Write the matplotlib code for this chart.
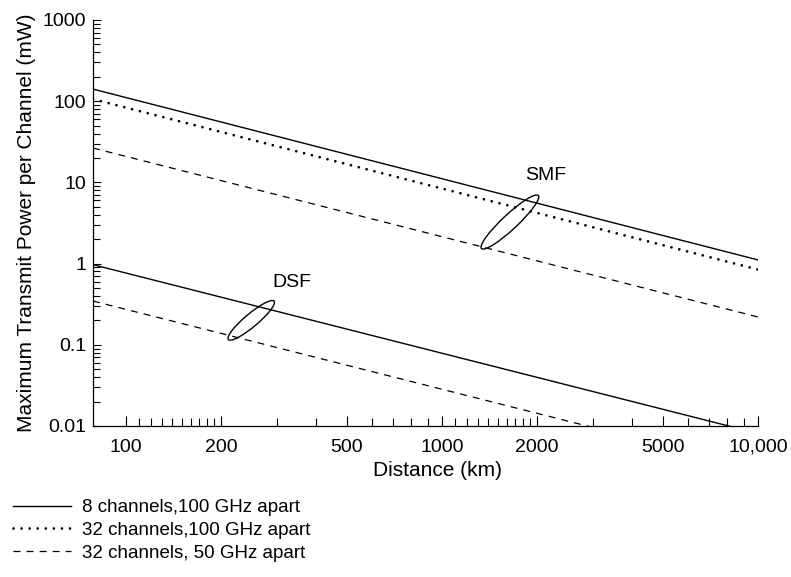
import matplotlib
matplotlib.use("Agg")
import matplotlib.pyplot as plt
from matplotlib.patches import Ellipse
from matplotlib.lines import Line2D
from matplotlib.transforms import Affine2D, ScaledTranslation
from matplotlib.ticker import FixedLocator, NullFormatter

plt.rcParams['font.family'] = ['Liberation Sans', 'DejaVu Sans']
plt.rcParams['lines.scale_dashes'] = False

# ---- data ----
distance_km = [78.6, 10000]
smf_8ch_100ghz = [141, 1.11]
smf_32ch_100ghz = [106, 0.845]
smf_32ch_50ghz = [26.5, 0.22]
dsf_8ch_100ghz = [0.97, 0.0081]
dsf_32ch_50ghz = [0.346, 0.00294]

x_major_ticks = [100, 200, 500, 1000, 2000, 5000, 10000]
x_major_labels = ["100", "200", "500", "1000", "2000", "5000", "10,000"]
x_minor_ticks = ([110, 120, 130, 140, 150, 160, 170, 180, 190]
                 + [300, 400, 600, 700, 800, 900]
                 + [1100, 1200, 1300, 1400, 1500, 1600, 1700, 1800, 1900]
                 + [3000, 4000, 6000, 7000, 8000, 9000])
y_major_ticks = [0.01, 0.1, 1, 10, 100, 1000]
y_major_labels = ["0.01", "0.1", "1", "10", "100", "1000"]

legend_labels = ["8 channels,100 GHz apart",
                 "32 channels,100 GHz apart",
                 "32 channels, 50 GHz apart"]

solid_style = dict(color='black', lw=1.0, linestyle='-')
dotted_style = dict(color='black', lw=2.0, linestyle=(0, (0.01, 5.8)),
                    dash_capstyle='round')
dashed_style = dict(color='black', lw=0.9, linestyle=(0, (5.0, 4.4)))

W, H, DPI = 791, 577, 100
fig = plt.figure(figsize=(W / DPI, H / DPI), dpi=DPI)
ax = fig.add_axes([93 / W, 1 - 426 / H, (758 - 93) / W, (426 - 20) / H])
ax.set_xscale('log')
ax.set_yscale('log')
ax.set_xlim(distance_km[0], distance_km[1])
ax.set_ylim(0.01, 1000)

ax.plot(distance_km, smf_8ch_100ghz, **solid_style)
ax.plot(distance_km, smf_32ch_100ghz, **dotted_style)
ax.plot(distance_km, smf_32ch_50ghz, **dashed_style)
ax.plot(distance_km, dsf_8ch_100ghz, **solid_style)
ax.plot(distance_km, dsf_32ch_50ghz, **dashed_style)

for s in ['top', 'right']:
    ax.spines[s].set_visible(False)
for s in ['left', 'bottom']:
    ax.spines[s].set_linewidth(0.9)

ax.xaxis.set_major_locator(FixedLocator(x_major_ticks))
ax.set_xticklabels(x_major_labels)
ax.xaxis.set_minor_locator(FixedLocator(x_minor_ticks))
ax.xaxis.set_minor_formatter(NullFormatter())
ax.yaxis.set_major_locator(FixedLocator(y_major_ticks))
ax.set_yticklabels(y_major_labels)
ax.yaxis.set_minor_formatter(NullFormatter())

ax.tick_params(axis='x', which='major', direction='in', length=7, width=0.8,
               pad=9, labelsize=14)
ax.tick_params(axis='x', which='minor', direction='in', length=6, width=0.8)
ax.tick_params(axis='y', which='major', direction='in', length=5.5, width=0.8,
               pad=5, labelsize=14)
ax.tick_params(axis='y', which='minor', direction='in', length=5, width=0.8)

ax.set_xlabel("Distance (km)", fontsize=15, labelpad=4)
ax.xaxis.set_label_coords((437.5 - 93) / (758 - 93), -0.085)
ax.set_ylabel("Maximum Transmit Power per Channel (mW)", fontsize=15,
              labelpad=5)

# ---- group annotations ----
def ring(cx, cy, major_pt, minor_pt, angle):
    tr = Affine2D().scale(fig.dpi / 72.0) + ScaledTranslation(cx, cy, ax.transData)
    e = Ellipse((0, 0), major_pt, minor_pt, angle=angle, fill=False,
                edgecolor='black', lw=1.0, transform=tr)
    ax.add_patch(e)

ring(1640, 3.25, 56, 10.8, 43)
ring(249, 0.20, 43, 9.4, 40)
ax.text(2130, 12.0, "SMF", fontsize=14, ha='center', va='center')
ax.text(335, 0.577, "DSF", fontsize=14, ha='center', va='center')

# ---- legend ----
handles = [Line2D([], [], **solid_style),
           Line2D([], [], **dotted_style),
           Line2D([], [], **dashed_style)]
fig.legend(handles, legend_labels, loc='upper left',
           bbox_to_anchor=(13 / W, 1 - 499 / H), frameon=False,
           fontsize=13.5, handlelength=3.1, handletextpad=0.6,
           labelspacing=0.3, borderpad=0, borderaxespad=0)

fig.savefig("out.png", dpi=DPI)
